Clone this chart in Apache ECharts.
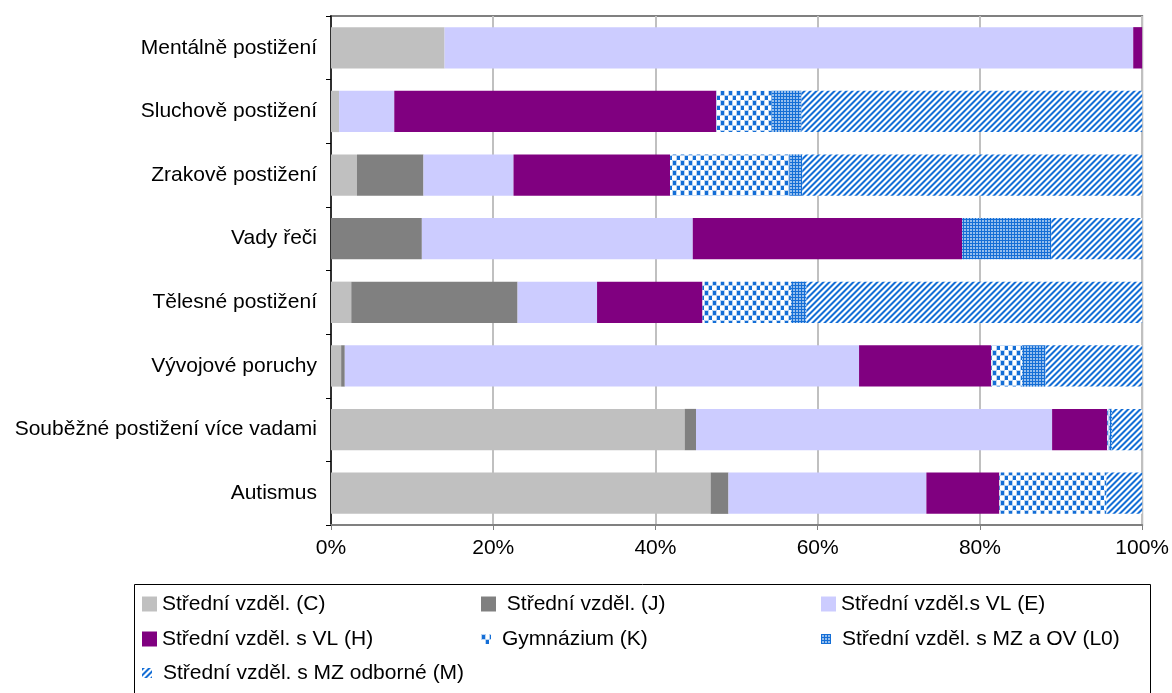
<!DOCTYPE html>
<html>
<head>
<meta charset="utf-8">
<script src="https://cdn.jsdelivr.net/npm/echarts@6/dist/echarts.min.js"></script>
<style>
html,body{margin:0;padding:0;background:#fff;}
#chart{width:1172px;height:693px;}
</style>
</head>
<body>
<div id="chart"></div>
<script>
// ---- data ----
const categories = ['Mentálně postižení','Sluchově postižení','Zrakově postižení','Vady řeči','Tělesné postižení','Vývojové poruchy','Souběžné postižení více vadami','Autismus'];
const seriesNames = ['Střední vzděl. (C)',' Střední vzděl. (J)','Střední vzděl.s VL (E)','Střední vzděl. s VL (H)','Gymnázium (K)','Střední vzděl. s MZ a OV (L0)','Střední vzděl. s MZ odborné (M)'];
const valC  = [14.0, 1.0, 3.2, 0.0, 2.5, 1.25, 43.6, 46.8];
const valJ  = [0.0, 0.0, 8.2, 11.2, 20.5, 0.45, 1.4, 2.2];
const valE  = [84.9, 6.8, 11.1, 33.4, 9.8, 63.4, 43.9, 24.4];
const valH  = [1.1, 39.7, 19.3, 33.2, 13.0, 16.3, 6.8, 9.0];
const valK  = [0.0, 6.8, 14.7, 0.0, 10.9, 3.8, 0.3, 13.2];
const valL0 = [0.0, 3.7, 1.6, 11.0, 1.9, 2.9, 0.3, 0.0];
const valM  = [0.0, 42.0, 41.9, 11.2, 41.4, 11.9, 3.7, 4.4];

// ---- patterns ----
const BLUE = [20, 110, 214];
function makeTile(w, h, fn) {
  const c = document.createElement('canvas');
  c.width = w; c.height = h;
  const ctx = c.getContext('2d');
  const img = ctx.createImageData(w, h);
  for (let y = 0; y < h; y++) for (let x = 0; x < w; x++) {
    const a = fn(x, y);
    const i = (y * w + x) * 4;
    img.data[i]   = Math.round(255 + (BLUE[0] - 255) * a);
    img.data[i+1] = Math.round(255 + (BLUE[1] - 255) * a);
    img.data[i+2] = Math.round(255 + (BLUE[2] - 255) * a);
    img.data[i+3] = 255;
  }
  ctx.putImageData(img, 0, 0);
  return c;
}
const dotTile = makeTile(8, 10, (x, y) => {
  const inDot = (dx, dy) => (x >= dx && x < dx + 3 && y >= dy && y < dy + 4);
  if (inDot(1, 1) || inDot(5, 6)) return 1;
  const near = (dx, dy) => (x >= dx - 1 && x < dx + 4 && y >= dy - 1 && y < dy + 5);
  if (near(1, 1) || near(5, 6)) return 0.3;
  return 0;
});
const gridTile = makeTile(3, 3, (x, y) => (x === 0 || y === 0) ? 1 : 0.45);
const stripeTile = makeTile(6, 6, (x, y) => [1, 1, 0.45, 0, 0, 0.45][(x + y) % 6]);
const pat = (c) => ({ image: c, repeat: 'repeat' });

const colors = ['#c0c0c0', '#808080', '#ccccff', '#800080', pat(dotTile), pat(gridTile), pat(stripeTile)];
const values = [valC, valJ, valE, valH, valK, valL0, valM];
const isPattern = [false, false, false, false, true, true, true];

const FONT = "'Liberation Sans', Arial, sans-serif";
const chart = echarts.init(document.getElementById('chart'), null, { renderer: 'canvas' });

const series = seriesNames.map((n, i) => ({
  name: n,
  type: 'bar',
  stack: 'total',
  barCategoryGap: '35%',
  itemStyle: { color: colors[i] },
  data: values[i]
}));

// legend slot per item: [left, top]
const legendSlots = [[142, 592], [481, 592], [821, 592], [142, 627], [481, 627], [821, 627], [142, 661]];
const legends = seriesNames.map((n, i) => {
  const p = isPattern[i];
  return {
    left: legendSlots[i][0] + (p ? 0 : 0),
    top: legendSlots[i][1],
    padding: 0,
    itemWidth: p ? 10 : 15,
    itemHeight: p ? 10 : 15,
    icon: 'rect',
    selectedMode: false,
    textStyle: { fontFamily: FONT, fontSize: 21, color: '#000', lineHeight: 24, padding: [0, 0, 0, p ? 6 : 0] },
    data: [n]
  };
});

chart.setOption({
  animation: false,
  backgroundColor: '#fff',
  grid: { left: 331, right: 27, top: 16, bottom: 168, show: true, borderColor: '#808080', borderWidth: 2 },
  xAxis: {
    type: 'value', min: 0, max: 100, interval: 20,
    axisLine: { show: true, lineStyle: { color: '#808080', width: 2 } },
    axisTick: { show: true, length: 5, lineStyle: { color: '#808080' } },
    splitLine: { show: true, lineStyle: { color: '#c0c0c0', width: 2 } },
    axisLabel: { formatter: v => v + '%', fontFamily: FONT, fontSize: 21, color: '#000', margin: 13 }
  },
  yAxis: {
    type: 'category', data: categories, inverse: true,
    axisLine: { show: true, lineStyle: { color: '#000', width: 1.5 } },
    axisTick: { show: true, length: 5, alignWithLabel: false, lineStyle: { color: '#000' } },
    axisLabel: { fontFamily: FONT, fontSize: 21, color: '#000', margin: 14 }
  },
  legend: legends,
  graphic: [{
    type: 'rect', left: 132, top: 582, z: -1,
    shape: { width: 1016, height: 130 },
    style: { fill: 'none', stroke: '#000', lineWidth: 1 }
  }],
  series: series
});
</script>
</body>
</html>
